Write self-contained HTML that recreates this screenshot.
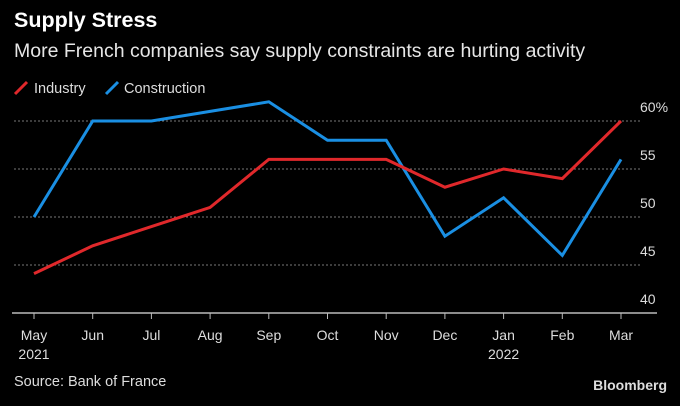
<!DOCTYPE html>
<html><head><meta charset="utf-8"><style>
body{margin:0;background:#000;width:680px;height:401px;overflow:hidden;font-family:"Liberation Sans",sans-serif;color:#ddd}
</style></head><body>
<svg width="680" height="401" id="c">
<text x="14" y="27" fill="#fff" font-size="21.5" font-weight="bold">Supply Stress</text>
<text x="14" y="57" fill="#e6e6e6" font-size="19.5">More French companies say supply constraints are hurting activity</text>
<g>
<line x1="15" y1="94" x2="27" y2="82" stroke="#e0282b" stroke-width="3"/>
<text x="34" y="93" fill="#ddd" font-size="14.5">Industry</text>
<line x1="106" y1="94" x2="118" y2="82" stroke="#1a8fe3" stroke-width="3"/>
<text x="124" y="93" fill="#ddd" font-size="14.5">Construction</text>
</g>
<g id="grid"></g><g id="xa"></g><g id="lines"></g>
<text x="14" y="386" fill="#ddd" font-size="14.5">Source: Bank of France</text>
<text x="667" y="390" fill="#ddd" font-size="14" font-weight="bold" text-anchor="end">Bloomberg</text>
</svg>
<script>
const months=["May","Jun","Jul","Aug","Sep","Oct","Nov","Dec","Jan","Feb","Mar"];
const years=["2021","","","","","","","","2022","",""];
const industry=[44.1,47,49,51,56,56,56,53.1,55,54,60];
const construction=[50,60,60,61,62,58,58,48,52,46,56];
const yTicks=[40,45,50,55,60];
const yTickLabels=["40","45","50","55","60%"];
const NS="http://www.w3.org/2000/svg";
const x=i=>34+i*(621-34)/10;
const y=v=>313-(v-40)*9.6;
function mk(t,a,p){const e=document.createElementNS(NS,t);for(const k in a)e.setAttribute(k,a[k]);p.appendChild(e);return e;}
const g=document.getElementById('grid');
yTicks.forEach((v,i)=>{
 if(v>40){const l=mk('line',{x1:14,x2:640,y1:y(v),y2:y(v),stroke:'#777','stroke-dasharray':'2,2','stroke-width':1},g);
 
 }
 const t=mk('text',{x:640,y:y(v)-9,fill:'#ddd','font-size':14},g);t.textContent=yTickLabels[i];
 
 
});
const xa=document.getElementById('xa');
const ax=mk('line',{x1:12,x2:657,y1:313,y2:313,stroke:'#bbb','stroke-width':1.5},xa);


months.forEach((m,i)=>{
 const tk=mk('line',{x1:x(i),x2:x(i),y1:313,y2:319,stroke:'#bbb'},xa);
 
 
 const t=mk('text',{x:x(i),y:340,fill:'#ddd','font-size':14,'text-anchor':'middle'},xa);t.textContent=m;
 
 
 if(years[i]){const t2=mk('text',{x:x(i),y:359,fill:'#ddd','font-size':14,'text-anchor':'middle'},xa);t2.textContent=years[i];
 
 }
});
const L=document.getElementById('lines');
[[construction,'#1a8fe3','construction-line'],[industry,'#e0282b','industry-line']].forEach(([d,c,n])=>{
 const p=mk('polyline',{points:d.map((v,i)=>x(i)+','+y(v)).join(' '),fill:'none',stroke:c,'stroke-width':3,'stroke-linejoin':'miter'},L);
 
 
});
</script>
</body></html>
